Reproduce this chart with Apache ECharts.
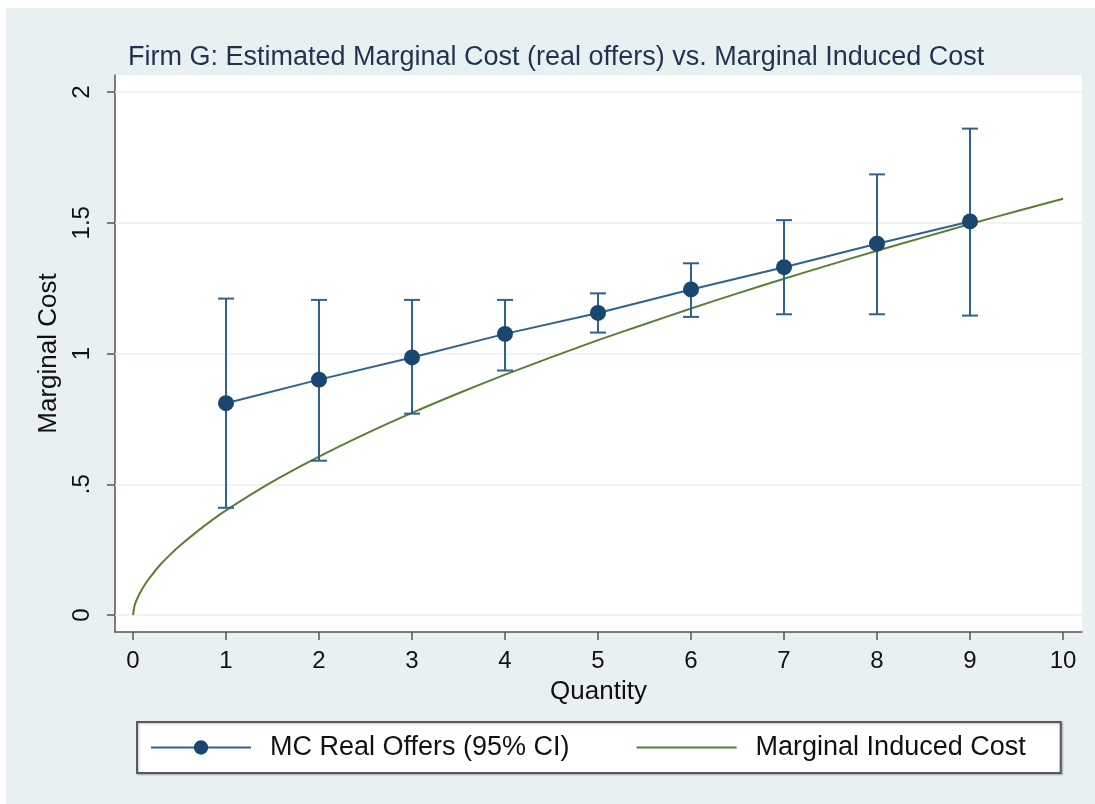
<!DOCTYPE html>
<html>
<head>
<meta charset="utf-8">
<script src="https://cdn.jsdelivr.net/npm/echarts@6/dist/echarts.min.js"></script>
<style>
  html, body { margin: 0; padding: 0; background: #ffffff; }
  #chart { width: 1095px; height: 804px; }
</style>
</head>
<body>
<div id="chart"></div>
<script>
// ---- data ----
const quantities = [1, 2, 3, 4, 5, 6, 7, 8, 9];
const mcEstimate = [0.81, 0.90, 0.985, 1.075, 1.155, 1.245, 1.33, 1.42, 1.505];
const ciLow      = [0.41, 0.59, 0.77, 0.935, 1.08, 1.14, 1.15, 1.15, 1.145];
const ciHigh     = [1.21, 1.205, 1.205, 1.205, 1.23, 1.345, 1.51, 1.685, 1.86];

const inducedX = [0, 0.02, 0.05, 0.1, 0.15, 0.2, 0.3, 0.4, 0.5, 0.75, 1, 1.5, 2, 2.5, 3, 3.5, 4, 4.5, 5, 5.5, 6, 6.5, 7, 7.5, 8, 8.5, 9, 9.5, 10];
const inducedY = [0, 0.04, 0.066, 0.10, 0.128, 0.152, 0.195, 0.231, 0.264, 0.336, 0.40, 0.51, 0.606, 0.693, 0.773, 0.848, 0.919, 0.986, 1.051, 1.112, 1.172, 1.23, 1.286, 1.34, 1.393, 1.444, 1.495, 1.544, 1.592];

const xTicks = [0, 1, 2, 3, 4, 5, 6, 7, 8, 9, 10];
const xTickLabels = ['0', '1', '2', '3', '4', '5', '6', '7', '8', '9', '10'];
const yTicks = [0, 0.5, 1, 1.5, 2];
const yTickLabels = ['0', '.5', '1', '1.5', '2'];

const titleText = 'Firm G: Estimated Marginal Cost (real offers) vs. Marginal Induced Cost';
const seriesNames = ['MC Real Offers (95% CI)', 'Marginal Induced Cost'];

// ---- styles ----
const FONT = 'Liberation Sans, Arial, Helvetica, sans-serif';
const NAVY = '#1a476f';
const NAVY_LINE = '#30628e';
const GREEN = '#5a7f34';
const BG = '#e8f0f2';

const chart = echarts.init(document.getElementById('chart'), null, { renderer: 'canvas' });

const ciData = quantities.map((q, i) => [q, ciLow[i], ciHigh[i]]);
const mcData = quantities.map((q, i) => [q, mcEstimate[i]]);
const inducedData = inducedX.map((x, i) => [x, inducedY[i]]);

const xLabelMap = {};
xTicks.forEach((v, i) => xLabelMap[v] = xTickLabels[i]);
const yLabelMap = {};
yTicks.forEach((v, i) => yLabelMap[v] = yTickLabels[i]);

const option = {
  backgroundColor: BG,
  animation: false,
  graphic: [
    { type: 'rect', left: 0, top: 0, shape: { width: 1095, height: 8 }, style: { fill: '#ffffff' }, silent: true, z: -10 },
    { type: 'rect', left: 0, top: 0, shape: { width: 6, height: 804 }, style: { fill: '#ffffff' }, silent: true, z: -10 }
  ],
  title: {
    text: titleText,
    left: 123,
    top: 39,
    textStyle: { fontFamily: FONT, fontSize: 27, fontWeight: 'normal', color: '#1f3350' }
  },
  legend: {
    data: seriesNames,
    left: 137,
    top: 722,
    orient: 'horizontal',
    backgroundColor: '#ffffff',
    borderColor: '#5a5a5a',
    borderWidth: 2,
    padding: [12, 35, 12, 13],
    itemGap: 66,
    itemWidth: 100,
    itemHeight: 18,
    textStyle: { fontFamily: FONT, fontSize: 27, color: '#111111', padding: [0, 0, 0, 14] },
    shadowColor: 'rgba(0,0,0,0.25)',
    shadowBlur: 2,
    shadowOffsetX: 1,
    shadowOffsetY: 1
  },
  grid: {
    left: 115, right: 13, top: 75, bottom: 172,
    show: true, backgroundColor: '#ffffff', borderWidth: 0,
    containLabel: false
  },
  xAxis: {
    type: 'value',
    min: -0.1935,
    max: 10.204,
    name: 'Quantity',
    nameLocation: 'middle',
    nameGap: 47,
    nameTextStyle: { fontFamily: FONT, fontSize: 26, color: '#111111' },
    axisLine: { show: true, onZero: false, lineStyle: { color: '#555555', width: 1.5 } },
    axisTick: { show: true, length: 8, customValues: xTicks, lineStyle: { color: '#555555', width: 1.5 } },
    axisLabel: {
      customValues: xTicks,
      margin: 17,
      fontFamily: FONT, fontSize: 24, color: '#111111',
      formatter: v => xLabelMap[v] !== undefined ? xLabelMap[v] : ''
    },
    splitLine: { show: false }
  },
  yAxis: {
    type: 'value',
    min: -0.065,
    max: 2.065,
    name: 'Marginal Cost',
    nameLocation: 'middle',
    nameGap: 46,
    nameRotate: 90,
    nameTextStyle: { fontFamily: FONT, fontSize: 26, color: '#111111' },
    axisLine: { show: true, onZero: false, lineStyle: { color: '#555555', width: 1.5 } },
    axisTick: { show: true, length: 8, customValues: yTicks, lineStyle: { color: '#555555', width: 1.5 } },
    axisLabel: {
      customValues: yTicks,
      rotate: 90,
      margin: 21,
      fontFamily: FONT, fontSize: 24, color: '#111111',
      formatter: v => yLabelMap[v] !== undefined ? yLabelMap[v] : ''
    },
    splitLine: { show: false }
  },
  series: [
    {
      name: seriesNames[1],
      type: 'line',
      data: inducedData,
      smooth: 0.25,
      symbol: 'none',
      lineStyle: { color: GREEN, width: 2 },
      itemStyle: { color: 'rgba(0,0,0,0)', borderWidth: 0 },
      z: 3,
      markLine: {
        silent: true,
        symbol: ['none', 'none'],
        label: { show: false },
        lineStyle: { color: '#e8f0f2', width: 1.5, type: 'solid' },
        data: yTicks.map(v => ({ yAxis: v })),
        z: 1
      }
    },
    {
      name: 'ci',
      type: 'custom',
      data: ciData,
      z: 4,
      renderItem: function (params, api) {
        const x = api.value(0);
        const top = api.coord([x, api.value(2)]);
        const bot = api.coord([x, api.value(1)]);
        const half = 8;
        const st = { stroke: NAVY_LINE, lineWidth: 2 };
        return {
          type: 'group',
          children: [
            { type: 'line', shape: { x1: top[0], y1: top[1], x2: bot[0], y2: bot[1] }, style: st },
            { type: 'line', shape: { x1: top[0] - half, y1: top[1], x2: top[0] + half, y2: top[1] }, style: st },
            { type: 'line', shape: { x1: bot[0] - half, y1: bot[1], x2: bot[0] + half, y2: bot[1] }, style: st }
          ]
        };
      }
    },
    {
      name: seriesNames[0],
      type: 'line',
      data: mcData,
      symbol: 'circle',
      symbolSize: 16,
      lineStyle: { color: NAVY_LINE, width: 2 },
      itemStyle: { color: NAVY },
      z: 5
    }
  ]
};

chart.setOption(option);
</script>
</body>
</html>
